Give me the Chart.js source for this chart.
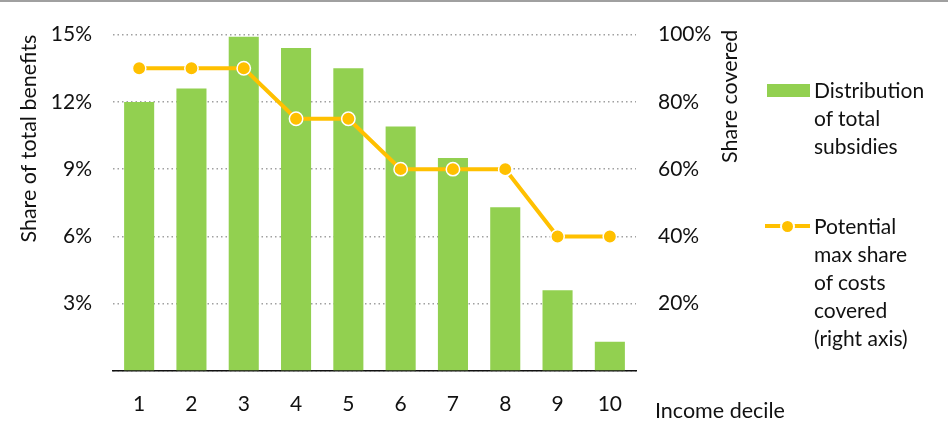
<!DOCTYPE html>
<html>
<head>
<meta charset="utf-8">
<script src="https://cdn.jsdelivr.net/npm/chart.js@4.4.1/dist/chart.umd.min.js"></script>
<style>
  body { margin: 0; background: #fff; font-family: Lato, sans-serif; color: #111; }
  #wrap { position: relative; width: 948px; height: 423px; overflow: hidden; }
  #topline { position: absolute; left: 0; top: 0; width: 948px; height: 2px; background: #a0a0a0; }
  .txt { position: absolute; font-size: 21px; line-height: 28px; white-space: nowrap; }
  #swatch { position: absolute; left: 767px; top: 84px; width: 43px; height: 13px; background: #92D050; }
  #lineKey { position: absolute; left: 765px; top: 224px; width: 45px; height: 4px; background: #FFC000; }
  #lineDot { position: absolute; left: 780px; top: 219px; width: 11px; height: 11px; border-radius: 50%;
             background: #FFC000; border: 2px solid #fff; }
</style>
</head>
<body>
<div id="wrap">
  <canvas id="acquisitions" width="948" height="423"></canvas>
  <div id="topline"></div>
  <div id="swatch"></div>
  <div class="txt" style="left:814px; top:76px;">Distribution<br>of total<br>subsidies</div>
  <div id="lineKey"></div>
  <div id="lineDot"></div>
  <div class="txt" style="left:814px; top:212px;">Potential<br>max share<br>of costs<br>covered<br>(right axis)</div>
  <div class="txt" style="left:655px; top:396px; font-size:21.5px;">Income decile</div>
</div>
<script>
const deciles = ['1', '2', '3', '4', '5', '6', '7', '8', '9', '10'];
const subsidyShare = [12.0, 12.6, 14.9, 14.4, 13.5, 10.9, 9.5, 7.3, 3.6, 1.3];
const maxCostShare = [90, 90, 90, 75, 75, 60, 60, 60, 40, 40];

Chart.defaults.font.family = 'Lato';
Chart.defaults.font.size = 21;
Chart.defaults.color = '#111';

// right axis title reads bottom-to-top, like the left one
const rightTitle = {
  id: 'rightTitle',
  afterDraw(chart) {
    const ctx = chart.ctx;
    ctx.save();
    ctx.translate(730, chart.chartArea.top - 5);
    ctx.rotate(-Math.PI / 2);
    ctx.font = '21.5px Lato';
    ctx.fillStyle = '#111';
    ctx.textAlign = 'right';
    ctx.textBaseline = 'middle';
    ctx.fillText('Share covered', 0, 0);
    ctx.restore();
  }
};

const chart = new Chart(document.querySelector('#acquisitions'), {
  data: {
    labels: deciles,
    datasets: [{
      type: 'line',
      label: 'Potential max share of costs covered (right axis)',
      data: maxCostShare,
      yAxisID: 'y2',
      borderColor: '#FFC000',
      borderWidth: 4,
      pointRadius: 6.7,
      pointBackgroundColor: '#FFC000',
      pointBorderColor: '#fff',
      pointBorderWidth: 1.5,
      tension: 0,
      order: 1
    }, {
      type: 'bar',
      label: 'Distribution of total subsidies',
      data: subsidyShare,
      yAxisID: 'y',
      backgroundColor: '#92D050',
      borderWidth: 0,
      barPercentage: 0.575,
      categoryPercentage: 1,
      order: 2
    }]
  },
  options: {
    responsive: false,
    animation: false,
    layout: { padding: { top: 33, left: 0, right: 0, bottom: 0 } },
    plugins: { legend: { display: false }, tooltip: { enabled: false } },
    scales: {
      x: {
        grid: { display: false, drawTicks: false },
        border: { display: true, color: '#111', width: 1.5 },
        ticks: { padding: 21 },
        afterFit: s => { s.height = 52; }
      },
      y: {
        position: 'left',
        min: 0, max: 15,
        ticks: {
          stepSize: 3, padding: 21,
          callback: v => v === 0 ? '' : v + '%'
        },
        grid: { color: '#a0a0a0', lineWidth: 1.5, drawTicks: false },
        border: { display: false, dash: [1.5, 3] },
        title: {
          display: true, text: 'Share of total benefits', align: 'end',
          font: { size: 21.5 },
          padding: { top: 16, bottom: 0 }
        },
        afterFit: s => { s.width = 113; }
      },
      y2: {
        position: 'right',
        min: 0, max: 100,
        ticks: {
          stepSize: 20, padding: 22,
          callback: v => v === 0 ? '' : v + '%'
        },
        grid: { display: false, drawTicks: false },
        border: { display: false },
        afterFit: s => { s.width = 312; }
      }
    }
  },
  plugins: [rightTitle]
});
</script>
</body>
</html>
